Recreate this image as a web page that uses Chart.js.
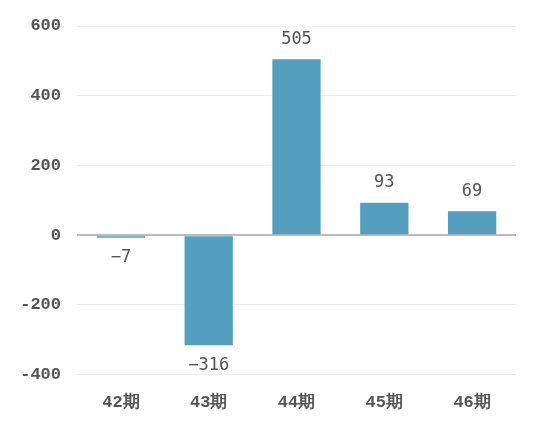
<!DOCTYPE html>
<html>
<head>
<meta charset="utf-8">
<script src="https://cdn.jsdelivr.net/npm/chart.js@4"></script>
<style>
  html, body { margin: 0; padding: 0; background: #fff; }
  #wrap { width: 538px; height: 430px; }
</style>
</head>
<body>
<div id="wrap"><canvas id="chart" width="538" height="430"></canvas></div>
<script>
const categories = ['42期', '43期', '44期', '45期', '46期'];
const values = [-7, -316, 505, 93, 69];
const yTicks = [-400, -200, 0, 200, 400, 600];

// draw the value above / below each bar
const valueLabels = {
  id: 'valueLabels',
  afterDatasetsDraw(chart) {
    const ctx = chart.ctx;
    const meta = chart.getDatasetMeta(0);
    ctx.save();
    ctx.font = '17px "DejaVu Sans Mono", monospace';
    ctx.fillStyle = '#555';
    ctx.textAlign = 'center';
    ctx.textBaseline = 'middle';
    meta.data.forEach((bar, i) => {
      const v = values[i];
      const y = v >= 0 ? bar.y - 20 : bar.y + 20;
      ctx.fillText(String(v).replace('-', '\u2212'), bar.x, y);
    });
    ctx.restore();
  }
};

new Chart(document.getElementById('chart').getContext('2d'), {
  type: 'bar',
  data: {
    labels: categories,
    datasets: [{
      data: values,
      backgroundColor: '#539fbd',
      barPercentage: 0.55,
      categoryPercentage: 1.0
    }]
  },
  options: {
    responsive: false,
    animation: false,
    layout: { padding: { top: 14, right: 22, bottom: 7, left: 4 } },
    plugins: { legend: { display: false }, tooltip: { enabled: false } },
    scales: {
      x: {
        grid: { display: false },
        border: { display: false },
        ticks: {
          color: '#555',
          padding: 10,
          font: { family: '"Liberation Mono", monospace', size: 17, weight: 'bold' }
        }
      },
      y: {
        min: -400,
        max: 600,
        afterBuildTicks(axis) { axis.ticks = yTicks.map(v => ({ value: v })); },
        afterFit(axis) { axis.width = 73; },
        border: { display: false },
        grid: {
          drawTicks: false,
          color: c => c.tick && c.tick.value === 0 ? '#bbbbbb' : '#eeeeee',
          lineWidth: c => c.tick && c.tick.value === 0 ? 2 : 1
        },
        ticks: {
          color: '#555',
          padding: 16,
          font: { family: '"Liberation Mono", monospace', size: 17, weight: 'bold' }
        }
      }
    }
  },
  plugins: [valueLabels]
});
</script>
</body>
</html>
